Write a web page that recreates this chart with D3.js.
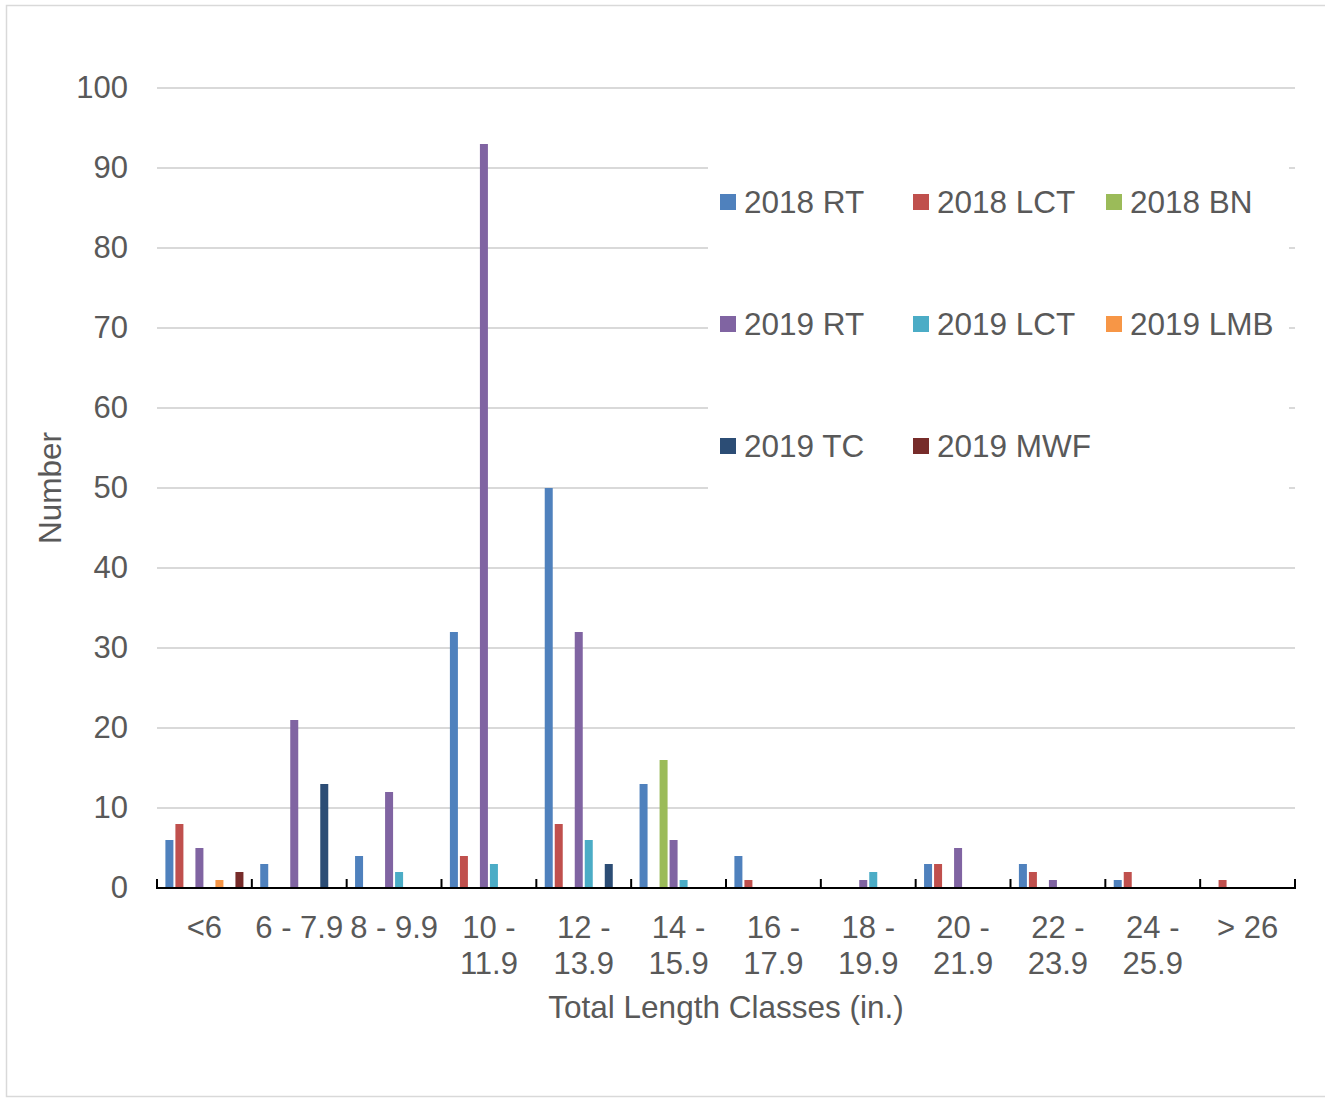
<!DOCTYPE html>
<html>
<head>
<meta charset="utf-8">
<script src="https://cdn.jsdelivr.net/npm/d3@7"></script>
<style>
  body { margin: 0; background: #fff; }
  text { font-family: "Liberation Sans", Arial, sans-serif; fill: #595959; }
</style>
</head>
<body>
<script>
// length classes (tick labels, split where the chart wraps them)
const categories = ["<6", "6 - 7.9", "8 - 9.9", "10 - 11.9", "12 - 13.9", "14 - 15.9",
                    "16 - 17.9", "18 - 19.9", "20 - 21.9", "22 - 23.9", "24 - 25.9", "> 26"];
const catLines = [["<6"], ["6 - 7.9"], ["8 - 9.9"], ["10 -", "11.9"], ["12 -", "13.9"], ["14 -", "15.9"],
                  ["16 -", "17.9"], ["18 -", "19.9"], ["20 -", "21.9"], ["22 -", "23.9"], ["24 -", "25.9"], ["> 26"]];

const seriesNames = ["2018 RT", "2018 LCT", "2018 BN", "2019 RT", "2019 LCT", "2019 LMB", "2019 TC", "2019 MWF"];
const seriesColors = ["#4F81BD", "#C0504D", "#9BBB59", "#8064A2", "#4BACC6", "#F79646", "#2C4D75", "#772C2A"];

// counts per class, one array per series
const rt2018  = [6, 3, 4, 32, 50, 13, 4, 0, 3, 3, 1, 0];
const lct2018 = [8, 0, 0, 4, 8, 0, 1, 0, 3, 2, 2, 1];
const bn2018  = [0, 0, 0, 0, 0, 16, 0, 0, 0, 0, 0, 0];
const rt2019  = [5, 21, 12, 93, 32, 6, 0, 1, 5, 1, 0, 0];
const lct2019 = [0, 0, 2, 3, 6, 1, 0, 2, 0, 0, 0, 0];
const lmb2019 = [1, 0, 0, 0, 0, 0, 0, 0, 0, 0, 0, 0];
const tc2019  = [0, 13, 0, 0, 3, 0, 0, 0, 0, 0, 0, 0];
const mwf2019 = [2, 0, 0, 0, 0, 0, 0, 0, 0, 0, 0, 0];
const seriesValues = [rt2018, lct2018, bn2018, rt2019, lct2019, lmb2019, tc2019, mwf2019];

const yTicks = [0, 10, 20, 30, 40, 50, 60, 70, 80, 90, 100];

function main() {
    let W = 1325, H = 1099;
    let plot = {left: 157, right: 1295, top: 88, bottom: 888};

    let svg = d3.select("body").append("svg")
        .attr("width", W).attr("height", H);

    // chart border
    svg.append("rect")
        .attr("x", 6.5).attr("y", 5.5)
        .attr("width", 1340).attr("height", 1091)
        .attr("fill", "#fff").attr("stroke", "#d9d9d9").attr("stroke-width", 1.5);

    // scales
    let xCat = d3.scaleBand().domain(categories).range([plot.left, plot.right]);
    let x0 = d3.scaleBand().domain(categories).range([plot.left, plot.right])
        .paddingInner(0.156).paddingOuter(0.078);
    let x1 = d3.scaleBand().domain(seriesNames).range([0, x0.bandwidth()])
        .paddingInner(0.2).paddingOuter(0.1);
    let y = d3.scaleLinear().domain([0, 100]).range([plot.bottom, plot.top]);

    // gridlines
    svg.append("g").selectAll("line")
        .data(yTicks.filter(d => d > 0))
        .enter().append("line")
        .attr("x1", plot.left).attr("x2", plot.right)
        .attr("y1", d => y(d)).attr("y2", d => y(d))
        .attr("stroke", "#d9d9d9").attr("stroke-width", 2);

    // y axis labels
    let yAxis = svg.append("g")
        .attr("transform", "translate(" + plot.left + ",0)")
        .call(d3.axisLeft(y).tickValues(yTicks).tickSize(0).tickPadding(29));
    yAxis.select(".domain").remove();
    yAxis.selectAll("text")
        .style("font-size", "31px")
        .style("font-family", "'Liberation Sans', Arial, sans-serif")
        .attr("fill", "#595959");

    // bars
    let groups = svg.append("g").selectAll("g")
        .data(seriesNames)
        .enter().append("g")
        .attr("fill", (d, i) => seriesColors[i]);

    groups.selectAll("rect")
        .data((s, i) => seriesValues[i].map((v, j) => ({cat: categories[j], s: s, v: v})))
        .enter().append("rect")
        .filter(d => d.v > 0)
        .attr("x", d => x0(d.cat) + x1(d.s))
        .attr("width", x1.bandwidth())
        .attr("y", d => y(d.v))
        .attr("height", d => y(0) - y(d.v));

    // x axis line and boundary ticks
    svg.append("line")
        .attr("x1", plot.left - 1).attr("x2", plot.right + 1)
        .attr("y1", plot.bottom).attr("y2", plot.bottom)
        .attr("stroke", "#000").attr("stroke-width", 2);

    let bounds = categories.map(c => xCat(c)).concat([plot.right]);
    svg.append("g").selectAll("line")
        .data(bounds)
        .enter().append("line")
        .attr("x1", d => d).attr("x2", d => d)
        .attr("y1", plot.bottom - 9).attr("y2", plot.bottom)
        .attr("stroke", "#000").attr("stroke-width", 2);

    // category labels
    let labels = svg.append("g").selectAll("text")
        .data(categories)
        .enter().append("text")
        .attr("x", d => xCat(d) + xCat.bandwidth() / 2)
        .attr("y", 938)
        .attr("text-anchor", "middle")
        .style("font-size", "31px");
    labels.selectAll("tspan")
        .data((d, i) => catLines[i])
        .enter().append("tspan")
        .attr("x", function () { return d3.select(this.parentNode).attr("x"); })
        .attr("dy", (d, i) => i === 0 ? 0 : 36)
        .text(d => d);

    // axis titles
    svg.append("text")
        .attr("x", (plot.left + plot.right) / 2).attr("y", 1018)
        .attr("text-anchor", "middle")
        .style("font-size", "31.5px")
        .text("Total Length Classes (in.)");

    svg.append("text")
        .attr("transform", "translate(61," + ((plot.top + plot.bottom) / 2) + ") rotate(-90)")
        .attr("text-anchor", "middle")
        .style("font-size", "31.5px")
        .text("Number");

    // legend (white box over the gridlines)
    let legend = svg.append("g");
    legend.append("rect")
        .attr("x", 708).attr("y", 160).attr("width", 581).attr("height", 336)
        .attr("fill", "#fff");

    let colX = [720, 913, 1106], rowY = [202, 324, 446];
    let items = legend.selectAll("g.item")
        .data(seriesNames)
        .enter().append("g")
        .attr("class", "item")
        .attr("transform", (d, i) => "translate(" + colX[i % 3] + "," + rowY[Math.floor(i / 3)] + ")");
    items.append("rect")
        .attr("x", 0).attr("y", -8).attr("width", 16).attr("height", 16)
        .attr("fill", (d, i) => seriesColors[i]);
    items.append("text")
        .attr("x", 24).attr("y", 11)
        .style("font-size", "31.5px")
        .text(d => d);
}

main();
</script>
</body>
</html>
